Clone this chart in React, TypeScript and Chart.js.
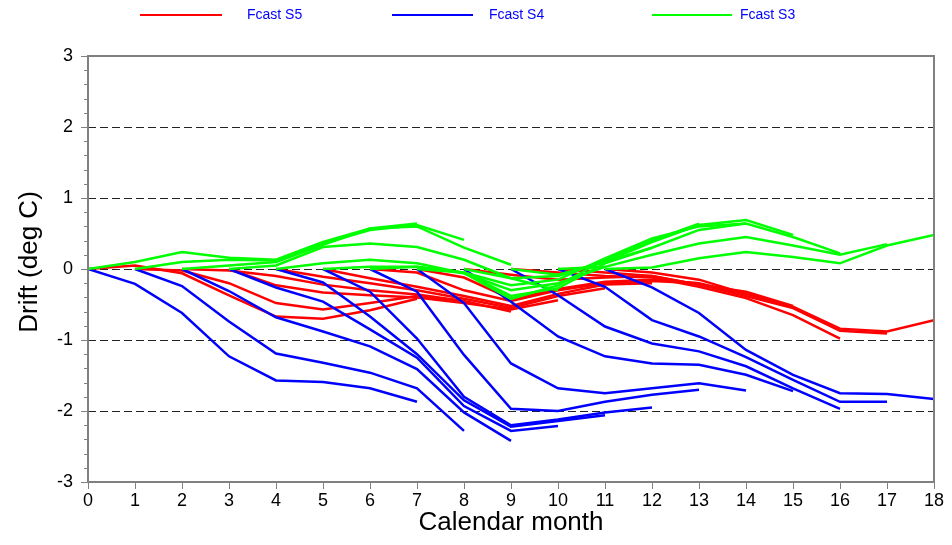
import { useEffect, useRef } from 'react';
import { Chart, registerables } from 'chart.js';

Chart.register(...registerables);

// Forecast start months (each forecast runs 7 months from its start)
const startMonths = [0, 1, 2, 3, 4, 5, 6, 7, 8, 9, 10, 11];

// Fcast S5 drift (deg C), one row per start month
const s5Drift: number[][] = [
  [0, 0.05, -0.06, -0.37, -0.67, -0.70, -0.58, -0.42],
  [0, -0.02, -0.20, -0.48, -0.57, -0.48, -0.38, -0.45],
  [0, -0.02, -0.10, -0.22, -0.30, -0.36, -0.45, -0.60],
  [0, -0.23, -0.33, -0.37, -0.40, -0.48, -0.57, -0.44],
  [0, -0.11, -0.20, -0.30, -0.42, -0.55, -0.38, -0.27],
  [0, -0.13, -0.25, -0.38, -0.52, -0.35, -0.22, -0.20],
  [0, -0.05, -0.30, -0.45, -0.30, -0.20, -0.17, -0.20],
  [0, -0.12, -0.42, -0.28, -0.18, -0.15, -0.20, -0.35],
  [0, -0.08, -0.15, -0.12, -0.10, -0.22, -0.32, -0.52],
  [0, -0.05, -0.10, -0.12, -0.25, -0.41, -0.65, -0.98],
  [0, -0.05, -0.10, -0.22, -0.38, -0.55, -0.87, -0.91],
  [0, -0.05, -0.15, -0.35, -0.53, -0.84, -0.88, -0.72],
];

// Fcast S4 drift (deg C)
const s4Drift: number[][] = [
  [0, -0.21, -0.62, -1.23, -1.57, -1.59, -1.68, -1.87],
  [0, -0.24, -0.74, -1.19, -1.32, -1.46, -1.68, -2.28],
  [0, -0.31, -0.68, -0.88, -1.09, -1.41, -2.02, -2.42],
  [0, -0.26, -0.46, -0.85, -1.25, -1.93, -2.28, -2.21],
  [0, -0.19, -0.67, -1.20, -1.85, -2.22, -2.14, -2.06],
  [0, -0.32, -0.98, -1.80, -2.20, -2.12, -2.02, -1.95],
  [0, -0.32, -1.21, -1.97, -2.00, -1.87, -1.77, -1.70],
  [0, -0.48, -1.33, -1.68, -1.75, -1.68, -1.61, -1.71],
  [0, -0.46, -0.95, -1.23, -1.33, -1.35, -1.49, -1.72],
  [0, -0.37, -0.81, -1.05, -1.16, -1.37, -1.68, -1.97],
  [0, -0.25, -0.72, -0.95, -1.24, -1.56, -1.87, -1.87],
  [0, -0.26, -0.62, -1.14, -1.49, -1.75, -1.76, -1.83],
];

// Fcast S3 drift (deg C)
const s3Drift: number[][] = [
  [0, 0.10, 0.24, 0.16, 0.13, 0.38, 0.57, 0.64],
  [0, 0.10, 0.13, 0.12, 0.36, 0.55, 0.62, 0.41],
  [0, 0.05, 0.10, 0.34, 0.57, 0.60, 0.30, 0.06],
  [0, 0.05, 0.31, 0.36, 0.31, 0.13, -0.13, -0.30],
  [0, 0.08, 0.13, 0.08, -0.06, -0.30, -0.20, 0.03],
  [0, 0.03, 0.03, -0.05, -0.38, -0.27, 0.08, 0.30],
  [0, 0.03, -0.06, -0.42, -0.23, 0.13, 0.40, 0.64],
  [0, -0.05, -0.23, -0.15, 0.15, 0.43, 0.60, 0.64],
  [0, -0.13, -0.10, 0.10, 0.38, 0.62, 0.69, 0.48],
  [0, -0.08, 0.10, 0.30, 0.55, 0.64, 0.45, 0.22],
  [0, 0.03, 0.20, 0.36, 0.45, 0.33, 0.20, 0.35],
  [0, 0.02, 0.15, 0.24, 0.17, 0.08, 0.33, 0.48],
];

const seriesNames = ['Fcast S5', 'Fcast S4', 'Fcast S3'];
const seriesColors = ['#ff0000', '#0000ff', '#00ff00'];

const xMin = 0;
const xMax = 18;
const yMin = -3;
const yMax = 3;
const gridValues = [-2, -1, 0, 1, 2];

const FONT = '"Liberation Sans", Arial, Helvetica, sans-serif';

function buildDatasets(drift: number[][], color: string, label: string) {
  return drift.map((row, k) => ({
    label,
    data: row.map((v, i) => ({ x: startMonths[k] + i, y: v })),
    borderColor: color,
    backgroundColor: color,
    borderWidth: 2.5,
    pointRadius: 0,
    tension: 0,
    fill: false,
  }));
}

const framePlugin = {
  id: 'frame',
  beforeDatasetsDraw(chart: any) {
    const { ctx, chartArea } = chart;
    const { left, right } = chartArea;
    const y = chart.scales.y;
    ctx.save();
    ctx.strokeStyle = '#222';
    ctx.lineWidth = 1;
    ctx.setLineDash([8, 4]);
    for (const v of gridValues) {
      const py = Math.round(y.getPixelForValue(v)) + 0.5;
      ctx.beginPath();
      ctx.moveTo(left, py);
      ctx.lineTo(right, py);
      ctx.stroke();
    }
    ctx.restore();
  },
  afterDatasetsDraw(chart: any) {
    const { ctx, chartArea } = chart;
    const { left, right, top, bottom } = chartArea;
    const x = chart.scales.x;
    const y = chart.scales.y;
    ctx.save();
    ctx.strokeStyle = '#808080';
    ctx.lineWidth = 2;
    ctx.strokeRect(left, top, right - left, bottom - top);
    ctx.lineWidth = 1;
    // y ticks (major + minor)
    for (let i = 0; i <= (yMax - yMin) * 5; i++) {
      const v = yMin + i * 0.2;
      const py = Math.round(y.getPixelForValue(v)) + 0.5;
      const major = i % 5 === 0;
      ctx.beginPath();
      ctx.moveTo(left - (major ? 7 : 4), py);
      ctx.lineTo(left, py);
      ctx.stroke();
    }
    // x ticks
    for (let m = xMin; m <= xMax; m++) {
      const px = Math.round(x.getPixelForValue(m)) + 0.5;
      ctx.beginPath();
      ctx.moveTo(px, bottom);
      ctx.lineTo(px, bottom + 7);
      ctx.stroke();
    }
    ctx.restore();
  },
  afterDraw(chart: any) {
    const { ctx, chartArea } = chart;
    ctx.save();
    // axis titles
    ctx.fillStyle = '#000';
    ctx.font = `26px ${FONT}`;
    ctx.textAlign = 'center';
    ctx.textBaseline = 'middle';
    ctx.fillText('Calendar month', (chartArea.left + chartArea.right) / 2, 523);
    ctx.save();
    ctx.translate(30, 262);
    ctx.rotate(-Math.PI / 2);
    ctx.fillText('Drift (deg C)', 0, 0);
    ctx.restore();
    // legend
    const items = [
      { x0: 140, x1: 222, tx: 247 },
      { x0: 392, x1: 473, tx: 489 },
      { x0: 652, x1: 732, tx: 740 },
    ];
    ctx.font = `14px ${FONT}`;
    ctx.textAlign = 'left';
    items.forEach((it, i) => {
      ctx.strokeStyle = seriesColors[i];
      ctx.lineWidth = 2;
      ctx.beginPath();
      ctx.moveTo(it.x0, 15);
      ctx.lineTo(it.x1, 15);
      ctx.stroke();
      ctx.fillStyle = '#0000ff';
      ctx.fillText(seriesNames[i], it.tx, 15);
    });
    ctx.restore();
  },
};

export default function App() {
  const canvasRef = useRef<HTMLCanvasElement | null>(null);

  useEffect(() => {
    document.body.style.margin = '0';
    const canvas = canvasRef.current;
    if (!canvas) return;
    const datasets = [
      ...buildDatasets(s3Drift, seriesColors[2], seriesNames[2]),
      ...buildDatasets(s4Drift, seriesColors[1], seriesNames[1]),
      ...buildDatasets(s5Drift, seriesColors[0], seriesNames[0]),
    ];
    const chart = new Chart(canvas, {
      type: 'line',
      data: { datasets },
      options: {
        animation: false,
        responsive: true,
        maintainAspectRatio: false,
        layout: { padding: { top: 56, right: 14, left: 0, bottom: 0 } },
        plugins: {
          legend: { display: false },
          tooltip: { enabled: false },
        },
        scales: {
          x: {
            type: 'linear',
            min: xMin,
            max: xMax,
            grid: { display: false, drawTicks: false },
            border: { display: false },
            ticks: {
              stepSize: 1,
              padding: 8,
              color: '#000',
              font: { family: FONT, size: 18 },
              maxRotation: 0,
              autoSkip: false,
            },
            afterFit(scale: any) {
              scale.height = 63;
            },
          },
          y: {
            type: 'linear',
            min: yMin,
            max: yMax,
            grid: { display: false, drawTicks: false },
            border: { display: false },
            ticks: {
              stepSize: 1,
              padding: 15,
              color: '#000',
              font: { family: FONT, size: 18 },
            },
            afterFit(scale: any) {
              scale.width = 88;
            },
          },
        },
      },
      plugins: [framePlugin],
    });
    return () => chart.destroy();
  }, []);

  return (
    <div style={{ width: 952, height: 545, position: 'relative' }}>
      <canvas ref={canvasRef} />
    </div>
  );
}
